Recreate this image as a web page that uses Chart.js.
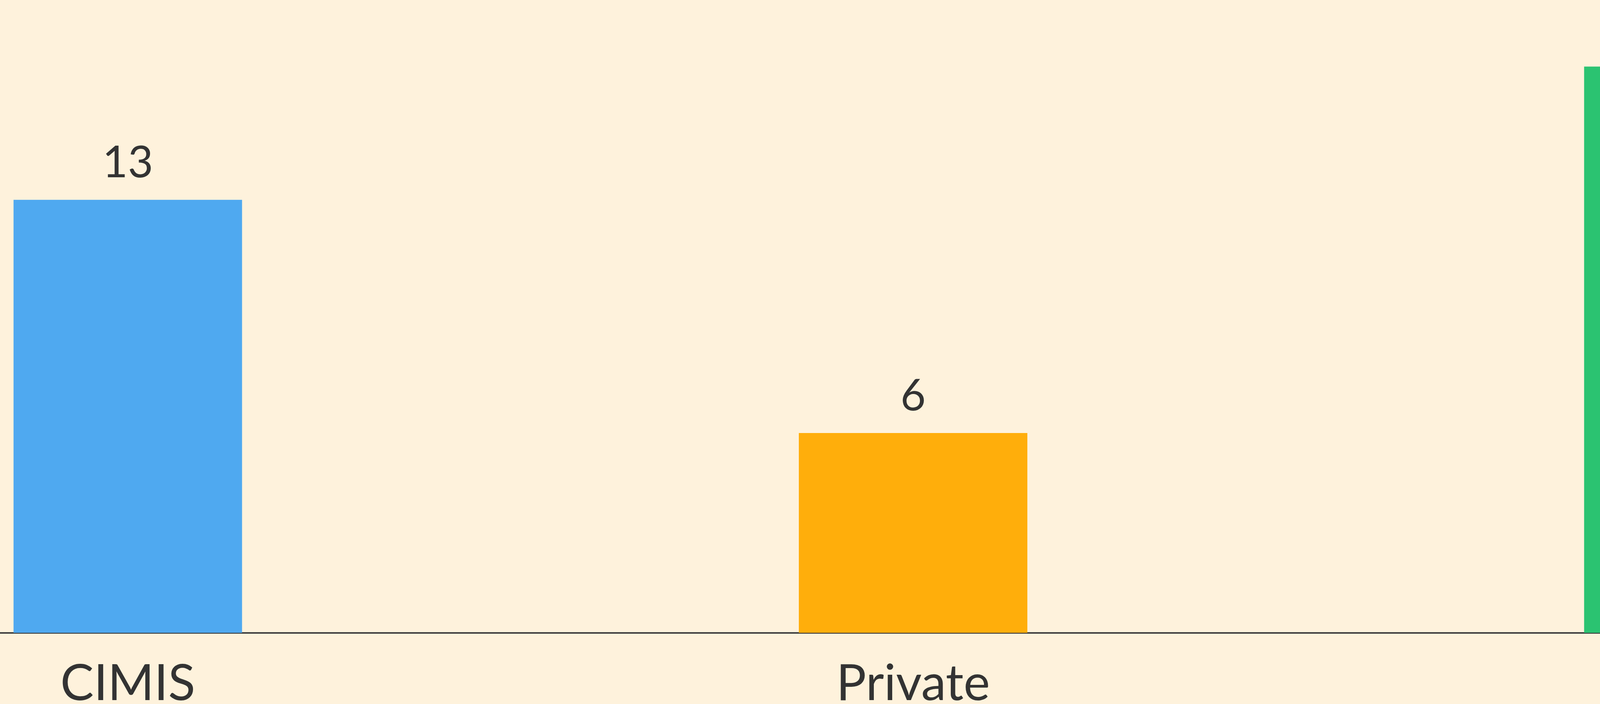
<!DOCTYPE html>
<html>
<head>
<meta charset="utf-8">
<script src="https://cdn.jsdelivr.net/npm/chart.js@4.4.0/dist/chart.umd.min.js"></script>
<style>
    html, body { margin: 0; padding: 0; background: #fef2dc; overflow: hidden; width: 4585px; height: 1803px; }
    /* the reference is a crop of a wider chart: the canvas runs past the edges */
    #wrap { position: absolute; left: -678px; top: 0; width: 6031px; height: 1882px; }
</style>
</head>
<body>
<div id="wrap"><canvas id="chart"></canvas></div>
<script>
// Données
const categories = ['CIMIS', 'Private', 'NA'];
const counts = [13, 6, 17];
const barColors = ['#4fa9f0', '#ffae0b', '#2bc371'];

const textColor = '#333333';
const fontFamily = 'Lato, "Noto Sans", sans-serif';

// Valeurs au-dessus des barres
const valueLabels = {
    id: 'valueLabels',
    afterDatasetsDraw(chart) {
        const ctx = chart.ctx;
        const meta = chart.getDatasetMeta(0);
        ctx.save();
        ctx.font = `112px ${fontFamily}`;
        ctx.fillStyle = textColor;
        ctx.textAlign = 'center';
        ctx.textBaseline = 'alphabetic';
        meta.data.forEach((bar, i) => {
            ctx.fillText(String(counts[i]), bar.x, bar.y - 58);
        });
        ctx.restore();
    }
};

function draw() {
    const ctx = document.getElementById('chart').getContext('2d');
    new Chart(ctx, {
        type: 'bar',
        data: {
            labels: categories,
            datasets: [{
                data: counts,
                backgroundColor: barColors,
                borderWidth: 0,
                barPercentage: 0.291,
                categoryPercentage: 1
            }]
        },
        options: {
            responsive: true,
            maintainAspectRatio: false,
            animation: false,
            devicePixelRatio: 1,
            layout: { padding: 0 },
            plugins: {
                legend: { display: false },
                tooltip: { enabled: false }
            },
            scales: {
                x: {
                    grid: { display: false, drawTicks: false },
                    border: { display: true, color: '#404040', width: 4 },
                    ticks: {
                        color: textColor,
                        padding: 73,
                        font: { family: fontFamily, size: 128, lineHeight: 0.9 }
                    }
                },
                y: {
                    display: false,
                    min: 0,
                    max: 19
                }
            }
        },
        plugins: [valueLabels]
    });
}

document.fonts.load('128px Lato').then(draw, draw);
</script>
</body>
</html>
